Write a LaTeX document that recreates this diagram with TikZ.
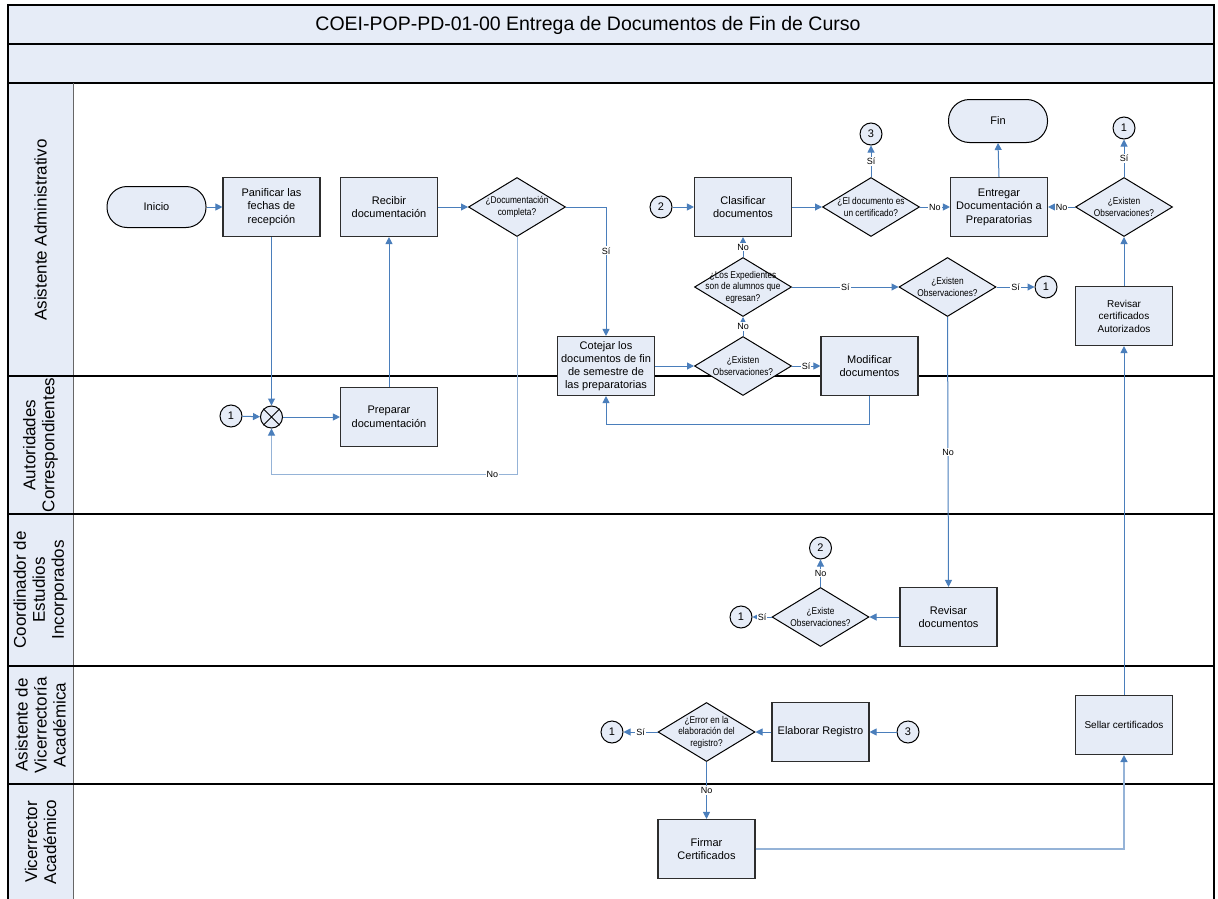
\documentclass[tikz,border=0pt]{standalone}
\usepackage{fontspec}
\setmainfont{Liberation Sans}
\newfontfamily\narrowfont[FakeStretch=0.85]{Liberation Sans}
\usepackage{xcolor}
\usepackage{tikz}
\usetikzlibrary{shapes.geometric, arrows.meta}
\definecolor{laneblue}{RGB}{230, 236, 247}
\definecolor{flowblue}{RGB}{74, 126, 187}
\definecolor{paleflow}{RGB}{149, 179, 215}
\definecolor{boxedge}{RGB}{45, 45, 45}

\tikzset{
  task/.style={rectangle, draw=boxedge, line width=1.1pt, fill=laneblue, minimum width=97pt, minimum height=59pt, inner sep=2pt, align=center, font=\fontsize{11}{13.5}\selectfont},
  ends/.style={rectangle, rounded corners=20pt, draw=black, line width=1pt, fill=laneblue, minimum width=99pt, minimum height=41pt, font=\fontsize{11}{13}\selectfont},
  decision/.style={diamond, draw=black, line width=1pt, fill=laneblue, minimum width=97pt, minimum height=59pt, inner sep=0pt},
  qtext/.style={align=center, inner sep=0pt, font=\narrowfont\fontsize{9.8}{11.5}\selectfont},
  link/.style={circle, draw=black, line width=1pt, fill=laneblue, minimum size=22pt, inner sep=0pt, font=\fontsize{11}{13}\selectfont},
  flow/.style={draw=flowblue, line width=1pt, -{Triangle[length=7pt, width=7pt, color=flowblue]}},
  lbl/.style={fill=white, inner sep=1pt, font=\fontsize{9}{10}\selectfont},
  lane/.style={rotate=90, align=center, font=\fontsize{17}{19}\selectfont}
}

\begin{document}
\begin{tikzpicture}[x=1pt, y=-1pt]
\useasboundingbox (0,0) rectangle (1218,899);
% header
\draw[fill=laneblue, line width=1.2pt] (8,5) rectangle (1214,44);
\draw[fill=laneblue, line width=1.2pt] (8,44) rectangle (1214,83);
\node[font=\fontsize{19.5}{21}\selectfont] (title) at (588,25) {COEI-POP-PD-01-00 Entrega de Documentos de Fin de Curso};
% lanes
\fill[laneblue] (8,83) rectangle (73,899);
\draw[line width=1.2pt] (8,899) -- (8,83) -- (1214,83) -- (1214,899);
\draw[black!60, line width=1pt] (73,83) -- (73,899);
\foreach \y in {376,514,666,784}
  \draw[line width=1.2pt] (8,\y) -- (1214,\y);
\node[lane] (asadm) at (40.5,230) {Asistente Administrativo};
\node[lane] (autor) at (40.5,445) {Autoridades\\Correspondientes};
\node[lane] (coord) at (40.5,590) {Coordinador de\\Estudios\\Incorporados};
\node[lane] (asvic) at (40.5,725) {Asistente de\\Vicerrectoría\\Académica};
\node[lane] (vicer) at (40.5,842) {Vicerrector\\Académico};

% Asistente Administrativo
\node[ends] (inicio) at (156.5,207) {Inicio};
\node[task] (panificar) at (271.5,207) {Panificar las\\fechas de\\recepción};
\node[task] (recibir) at (389,207) {Recibir\\documentación};
\node[decision, label={[qtext]center:{¿Documentación\\completa?}}] (qdoc) at (517,207) {};
\node[task, font=\fontsize{11}{13}\selectfont] (cotejar) at (606,366) {Cotejar los\\documentos de fin\\de semestre de\\las preparatorias};
\node[decision, label={[qtext]center:{¿Existen\\Observaciones?}}] (qobs1) at (743,366) {};
\node[task] (modificar) at (869.5,366) {Modificar\\documentos};
\node[decision, label={[qtext]center:{¿Los Expedientes\\son de alumnos que\\egresan?}}] (qegr) at (743,287) {};
\node[decision, label={[qtext]center:{¿Existen\\Observaciones?}}] (qobs2) at (947.5,287) {};
\node[link] (c1b) at (1046,287) {1};
\node[link] (c2a) at (661,207) {2};
\node[task] (clasificar) at (743,207) {Clasificar\\documentos};
\node[decision, label={[qtext]center:{¿El documento es\\un certificado?}}] (qcert) at (871,207) {};
\node[link] (c3a) at (871,134) {3};
\node[task] (entregar) at (999,207) {Entregar\\Documentación a\\Preparatorias};
\node[ends, rounded corners=21pt, minimum height=43pt] (fin) at (998,121) {Fin};
\node[decision, label={[qtext]center:{¿Existen\\Observaciones?}}] (qobs3) at (1124,207) {};
\node[link] (c1c) at (1124,128) {1};
\node[task, font=\fontsize{10}{12.5}\selectfont] (revcert) at (1124,316) {Revisar\\certificados\\Autorizados};

% Autoridades Correspondientes
\node[link] (c1a) at (231,416) {1};
\node[circle, draw=black, line width=1pt, fill=laneblue, minimum size=22pt] (xor) at (271.5,417) {};
\draw[line width=1pt] (xor.north west) -- (xor.south east) (xor.north east) -- (xor.south west);
\node[task] (preparar) at (389,417) {Preparar\\documentación};

% Coordinador de Estudios Incorporados
\node[task] (revdoc) at (948.5,617) {Revisar\\documentos};
\node[decision, label={[qtext]center:{¿Existe\\Observaciones?}}] (qobs4) at (820.5,617) {};
\node[link] (c2b) at (820.5,548) {2};
\node[link] (c1d) at (741,617) {1};

% Asistente de Vicerrectoria Academica
\node[link] (c3b) at (908,732) {3};
\node[task] (elaborar) at (820.5,732) {Elaborar Registro};
\node[decision, label={[qtext]center:{¿Error en la\\elaboración del\\registro?}}] (qerr) at (706.5,732) {};
\node[link] (c1e) at (612,732) {1};
\node[task, font=\fontsize{10}{12.5}\selectfont] (sellar) at (1124,725) {Sellar certificados};

% Vicerrector Academico
\node[task] (firmar) at (706.5,849) {Firmar\\Certificados};

% connectors
\coordinate (nobend) at (517,474);
\coordinate (modback) at (869.5,424);
\draw[flow] (inicio) -- (panificar);
\draw[flow] (panificar.south) -- (xor.north);
\draw[flow] (recibir) -- (qdoc);
\draw[flow] (qdoc.east) -| node[lbl, pos=0.67] {Sí} (cotejar.north);
\draw[flow, draw=paleflow] (qdoc.south) -- (nobend) -| node[lbl, pos=0.05] {No} (xor.south);
\draw[flow] (c1a) -- (xor);
\draw[flow] (xor) -- (preparar);
\draw[flow] (preparar.north) -- (recibir.south);
\draw[flow] (cotejar) -- (qobs1);
\draw[flow] (qobs1) -- node[lbl] {Sí} (modificar);
\draw[flow] (modificar.south) -- (modback) -| (cotejar.south);
\draw[flow] (qobs1.north) -- node[lbl] {No} (qegr.south);
\draw[flow] (qegr.north) -- node[lbl] {No} (clasificar.south);
\draw[flow] (qegr.east) -- node[lbl] {Sí} (qobs2.west);
\draw[flow] (qobs2.east) -- node[lbl] {Sí} (c1b);
\draw[flow] (qobs2.south) -- node[lbl] {No} (revdoc.north);
\draw[flow] (c2a) -- (clasificar);
\draw[flow] (clasificar) -- (qcert);
\draw[flow] (qcert.north) -- node[lbl] {Sí} (c3a);
\draw[flow] (qcert.east) -- node[lbl] {No} (entregar.west);
\draw[flow] (entregar.north) -- (fin.south);
\draw[flow] (qobs3.west) -- node[lbl] {No} (entregar.east);
\draw[flow] (qobs3.north) -- node[lbl] {Sí} (c1c);
\draw[flow] (revcert.north) -- (qobs3.south);
\draw[flow] (sellar.north) -- (revcert.south);
\draw[flow, draw=paleflow, line width=1.5pt] (firmar.east) -| (sellar.south);
\draw[flow] (revdoc.west) -- (qobs4.east);
\draw[flow] (qobs4.north) -- node[lbl] {No} (c2b);
\draw[flow] (qobs4.west) -- node[lbl] {Sí} (c1d);
\draw[flow] (c3b) -- (elaborar);
\draw[flow] (elaborar) -- (qerr);
\draw[flow] (qerr.west) -- node[lbl] {Sí} (c1e);
\draw[flow] (qerr.south) -- node[lbl] {No} (firmar.north);
\end{tikzpicture}
\end{document}
